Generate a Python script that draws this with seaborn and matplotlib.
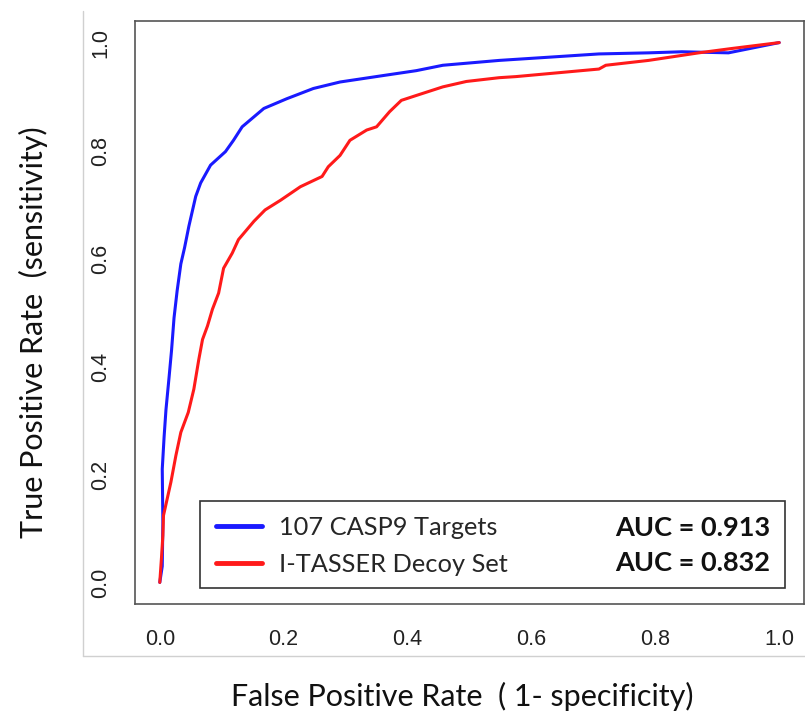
import numpy as np
import pandas as pd
import matplotlib.pyplot as plt
import seaborn as sns
from matplotlib.lines import Line2D
from matplotlib.patches import Rectangle

# ROC curve points
casp9_fpr = [0.000, 0.004, 0.005, 0.004, 0.007, 0.010, 0.015, 0.019, 0.023, 0.028, 0.034,
             0.040, 0.047, 0.058, 0.066, 0.082, 0.106, 0.119, 0.133, 0.168, 0.205, 0.248,
             0.291, 0.361, 0.414, 0.457, 0.548, 0.629, 0.709, 0.789, 0.843, 0.918, 1.000]
casp9_tpr = [0.000, 0.030, 0.110, 0.210, 0.270, 0.320, 0.380, 0.430, 0.490, 0.540, 0.590,
             0.620, 0.660, 0.715, 0.740, 0.773, 0.798, 0.819, 0.844, 0.878, 0.896, 0.915,
             0.927, 0.939, 0.948, 0.958, 0.967, 0.973, 0.979, 0.981, 0.983, 0.981, 1.000]

decoy_fpr = [0.000, 0.003, 0.005, 0.006, 0.012, 0.018, 0.026, 0.034, 0.046, 0.055, 0.063,
             0.069, 0.077, 0.085, 0.095, 0.103, 0.117, 0.127, 0.152, 0.170, 0.195, 0.227,
             0.262, 0.272, 0.291, 0.307, 0.334, 0.350, 0.371, 0.390, 0.414, 0.457, 0.495,
             0.548, 0.575, 0.709, 0.720, 0.789, 0.870, 0.923, 1.000]
decoy_tpr = [0.000, 0.050, 0.087, 0.124, 0.155, 0.186, 0.235, 0.278, 0.315, 0.358, 0.413,
             0.450, 0.475, 0.506, 0.536, 0.582, 0.610, 0.635, 0.669, 0.690, 0.708, 0.733,
             0.752, 0.770, 0.791, 0.819, 0.838, 0.844, 0.872, 0.893, 0.902, 0.918, 0.928,
             0.935, 0.937, 0.951, 0.958, 0.967, 0.981, 0.989, 1.000]

series_names = ["107 CASP9 Targets", "I-TASSER Decoy Set"]
auc_values = [0.913, 0.832]
tick_values = [0.0, 0.2, 0.4, 0.6, 0.8, 1.0]

colors = {series_names[0]: "#1a1aff", series_names[1]: "#ff1a1a"}

df = pd.concat([
    pd.DataFrame({"fpr": casp9_fpr, "tpr": casp9_tpr, "set": series_names[0]}),
    pd.DataFrame({"fpr": decoy_fpr, "tpr": decoy_tpr, "set": series_names[1]}),
], ignore_index=True)

sns.set_theme(style="white")
plt.rcParams["font.family"] = ["Liberation Sans", "DejaVu Sans"]
label_font = "Lato"
frame_col = "#555555"

fig = plt.figure(figsize=(8.05, 7.19), dpi=100)
ax = fig.add_axes([135 / 805, 1 - 604 / 719, 669 / 805, 583 / 719])

sns.lineplot(data=df, x="fpr", y="tpr", hue="set", palette=colors, sort=False,
             estimator=None, linewidth=2.2, legend=False, ax=ax)

ax.set_xlim(-0.04, 1.04)
ax.set_ylim(-0.04, 1.04)
ax.set_xticks(tick_values)
ax.set_yticks(tick_values)
ax.set_xticklabels([f"{v:.1f}" for v in tick_values])
ax.set_yticklabels([f"{v:.1f}" for v in tick_values])
ax.tick_params(axis="both", direction="out", length=8, width=1, color=frame_col,
               labelsize=15.5, labelcolor="#222222")
ax.tick_params(axis="x", pad=10)
ax.tick_params(axis="y", pad=9)
for lbl in ax.get_yticklabels():
    lbl.set_rotation(90)
    lbl.set_va("center")
for sp in ax.spines.values():
    sp.set_visible(True)
    sp.set_color(frame_col)
    sp.set_linewidth(1.2)

ax.set_xlabel("False Positive Rate  ( 1- specificity)", fontsize=22,
              family=label_font, color="#111111", va="center")
ax.set_ylabel("True Positive Rate  (sensitivity)", fontsize=22,
              family=label_font, color="#111111", va="center")
ax.xaxis.set_label_coords(0.489, -0.158)
ax.yaxis.set_label_coords(-0.152, 0.467)

# legend: lines + labels, frame, and bold AUC values on the right
handles = [Line2D([], [], color=colors[n], linewidth=3.5) for n in series_names]
ax.legend(handles=handles, labels=series_names, loc="center left",
          bbox_to_anchor=(0.121, 0.1003), frameon=False, borderpad=0,
          borderaxespad=0, handlelength=1.8, handletextpad=0.68,
          labelspacing=0.55, prop={"family": label_font, "size": 18.3})
ax.add_patch(Rectangle((0.097, 0.0274), 0.875, 0.1493, transform=ax.transAxes,
                       fill=False, edgecolor="#333333", linewidth=1.2))
for i, auc in enumerate(auc_values):
    ax.text(0.949, 0.130 - i * 0.060, f"AUC = {auc:.3f}", transform=ax.transAxes,
            ha="right", va="center", fontsize=19.5, fontweight="bold",
            family=label_font, color="#111111")

# light frame around the plot region
fig.add_artist(Line2D([83 / 805, 83 / 805], [1 - 11 / 719, 1 - 656 / 719],
                      transform=fig.transFigure, color="#d0d0d0", linewidth=1))
fig.add_artist(Line2D([83 / 805, 1.0], [1 - 656 / 719, 1 - 656 / 719],
                      transform=fig.transFigure, color="#d0d0d0", linewidth=1))

fig.savefig("out.png", dpi=100)
